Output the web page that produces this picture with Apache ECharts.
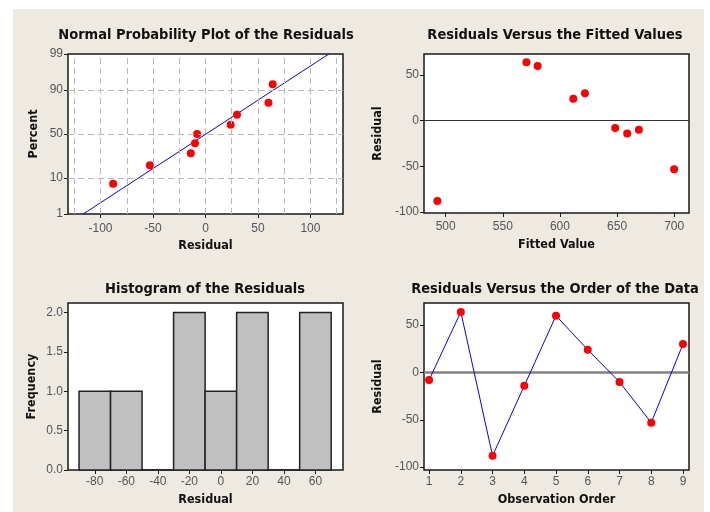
<!DOCTYPE html>
<html><head><meta charset="utf-8">
<script src="https://cdn.jsdelivr.net/npm/echarts@6/dist/echarts.min.js"></script>
<style>html,body{margin:0;padding:0;background:#fff}#c{width:710px;height:512px}</style>
</head><body><div id="c"></div>
<script>
// ---- data ----
const residuals = [-8, 64, -88, -14, 60, 24, -10, -53, 30];          // by observation order
const fittedValues = [648.4, 570.7, 492.7, 658.9, 580.5, 611.7, 669.1, 700, 621.9];
const observationOrder = [1, 2, 3, 4, 5, 6, 7, 8, 9];
const sortedResiduals = [-88, -53, -14, -10, -8, 24, 30, 60, 64];
const probPercent = [7.4, 18.1, 28.7, 39.4, 50, 60.6, 71.3, 81.9, 92.6];
const fitLineResidual = [-116.5, 117.5];
const fitLinePercent = [1, 99];
const percentTicks = [1, 10, 50, 90, 99];
const percentGrid = [10, 50, 90];
const residualTicks = [-100, -50, 0, 50, 100];
const residualGrid = [-125, -100, -75, -50, -25, 0, 25, 50, 75, 100, 125];
const fittedTicks = [500, 550, 600, 650, 700];
const residTicks2 = [-100, -50, 0, 50];
const binCenters = [-80, -60, -40, -20, 0, 20, 40, 60];
const binWidth = 20;
const frequencies = [1, 1, 0, 2, 1, 2, 0, 2];
const freqTicks = [0, 0.5, 1.0, 1.5, 2.0];

// inverse normal CDF (Acklam) to build the probability scale
function invNorm(p){
  const a=[-39.69683028665376,220.9460984245205,-275.9285104469687,138.3577518672690,-30.66479806614716,2.506628277459239];
  const b=[-54.47609879822406,161.5858368580409,-155.6989798598866,66.80131188771972,-13.28068155211027];
  const c=[-0.007784894002430293,-0.3223964580411365,-2.400758277161838,-2.549732539343734,4.374664141464968,2.938163982698783];
  const d=[0.007784695709041462,0.3224671290700398,2.445134137142996,3.754408661907416];
  const pl=0.02425, ph=1-pl; let q,r;
  if(p<pl){q=Math.sqrt(-2*Math.log(p));return (((((c[0]*q+c[1])*q+c[2])*q+c[3])*q+c[4])*q+c[5])/((((d[0]*q+d[1])*q+d[2])*q+d[3])*q+1);}
  if(p<=ph){q=p-0.5;r=q*q;return (((((a[0]*r+a[1])*r+a[2])*r+a[3])*r+a[4])*r+a[5])*q/(((((b[0]*r+b[1])*r+b[2])*r+b[3])*r+b[4])*r+1);}
  q=Math.sqrt(-2*Math.log(1-p));return -(((((c[0]*q+c[1])*q+c[2])*q+c[3])*q+c[4])*q+c[5])/((((d[0]*q+d[1])*q+d[2])*q+d[3])*q+1);
}
const zOf = pct => invNorm(pct/100);

const TICK_FONT = "'DejaVu Sans Condensed','DejaVu Sans',sans-serif";
const BOLD_FONT = "'DejaVu Sans Condensed','DejaVu Sans',sans-serif";
const INK = '#1a1a1a';

function axis(gi, o){
  const base = {
    gridIndex: gi, type:'value', scale:true,
    axisLine:{show:false, onZero:false},
    axisTick:{show:true, inside:false, length:4, lineStyle:{color:INK, width:1}},
    splitLine:{show:false},
    axisLabel:{color:'#111', fontFamily:TICK_FONT, fontSize:12.5, margin:6},
    nameTextStyle:{color:'#111', fontFamily:BOLD_FONT, fontWeight:'bold', fontSize:12.5},
    nameLocation:'middle'
  };
  const r = Object.assign(base, o);
  r.axisLine = {show:false, onZero:false};
  if(o.ticks){
    r.axisLabel = Object.assign({}, base.axisLabel, o.axisLabel||{}, {customValues:o.ticks});
    r.axisTick = Object.assign({}, base.axisTick, {customValues:o.ticks});
    delete r.ticks;
  }
  return r;
}

const z1 = zOf(1), z99 = zOf(99);
function pctLabel(v){
  for(const p of percentTicks){ if(Math.abs(zOf(p)-v)<1e-6) return String(p); }
  return '';
}

const gridLineStyle = {color:'#b8b8b8', type:[6,4], width:1};

const option = {
  animation:false,
  backgroundColor:'#fff',
  graphic:[{type:'rect', shape:{x:13,y:9,width:691,height:503}, style:{fill:'#EEEAE1'}, z:-10, silent:true}],
  title:[
    {text:'Normal Probability Plot of the Residuals', left:201, top:23, textAlign:'center'},
    {text:'Residuals Versus the Fitted Values', left:550, top:23, textAlign:'center'},
    {text:'Histogram of the Residuals', left:200, top:277, textAlign:'center'},
    {text:'Residuals Versus the Order of the Data', left:550, top:277, textAlign:'center'}
  ].map(t=>Object.assign(t,{textStyle:{fontFamily:BOLD_FONT, fontWeight:'bold', fontSize:14.5, color:'#111'}})),
  grid:[
    {left:68, top:54, width:275, height:160},
    {left:424, top:54, width:265, height:159},
    {left:68, top:303, width:275, height:167},
    {left:424, top:303, width:265, height:167}
  ].map(g=>Object.assign(g,{show:true, backgroundColor:'#fff', borderColor:INK, borderWidth:1.5, containLabel:false})),
  xAxis:[
    axis(0,{min:-131, max:131, ticks:residualTicks, name:'Residual', nameGap:25, axisLabel:{margin:9}}),
    axis(1,{min:481, max:713, ticks:fittedTicks, name:'Fitted Value', nameGap:25, axisLabel:{margin:8}}),
    axis(2,{min:-97, max:77.5, ticks:binCenters, name:'Residual', nameGap:23, axisLabel:{margin:6}}),
    axis(3,{min:0.84, max:9.19, ticks:observationOrder, name:'Observation Order', nameGap:23, axisLabel:{margin:6}})
  ],
  yAxis:[
    axis(0,{min:z1, max:z99, ticks:percentTicks.map(zOf), name:'Percent', nameGap:28, axisLabel:{formatter:pctLabel, margin:5}}),
    axis(1,{min:-101, max:73, ticks:residTicks2, name:'Residual', nameGap:40, axisLabel:{margin:5}}),
    axis(2,{min:0, max:2.12, ticks:freqTicks, name:'Frequency', nameGap:30, axisLabel:{margin:5, formatter:v=>v.toFixed(1)}}),
    axis(3,{min:-103, max:73.4, ticks:residTicks2, name:'Residual', nameGap:40, axisLabel:{margin:5}})
  ],
  series:[
    {type:'line', xAxisIndex:0, yAxisIndex:0, data:[], silent:true,
     markLine:{silent:true, symbol:'none', label:{show:false}, lineStyle:gridLineStyle, animation:false,
       data: residualGrid.map(v=>({xAxis:v})).concat(percentGrid.map(p=>({yAxis:zOf(p)})))}},
    {type:'line', xAxisIndex:0, yAxisIndex:0, data: fitLineResidual.map((x,i)=>[x, zOf(fitLinePercent[i])]),
     showSymbol:false, symbol:'none', lineStyle:{color:'#0000ff', width:1}, z:3},
    {type:'scatter', xAxisIndex:0, yAxisIndex:0, data: sortedResiduals.map((x,i)=>[x, zOf(probPercent[i])]),
     symbolSize:8, itemStyle:{color:'#ff0000', opacity:1}, z:4},
    {type:'scatter', xAxisIndex:1, yAxisIndex:1, data: fittedValues.map((f,i)=>[f, residuals[i]]),
     symbolSize:8, itemStyle:{color:'#ff0000', opacity:1}, z:4,
     markLine:{silent:true, symbol:'none', label:{show:false}, lineStyle:{color:'#333', type:'solid', width:1}, animation:false, data:[{yAxis:0}]}},
    {type:'custom', xAxisIndex:2, yAxisIndex:2, data: binCenters.map((c,i)=>[c, frequencies[i]]),
     renderItem:(params, api)=>{
       const c = api.value(0), f = api.value(1);
       const p1 = api.coord([c-binWidth/2, f]), p2 = api.coord([c+binWidth/2, 0]);
       return {type:'rect', shape:{x:p1[0], y:p1[1], width:p2[0]-p1[0], height:p2[1]-p1[1]},
               style:{fill:'#c0c0c0', stroke:'#222', lineWidth:1.5}};
     }},
    {type:'line', xAxisIndex:3, yAxisIndex:3, data: observationOrder.map((o,i)=>[o, residuals[i]]),
     symbol:'circle', symbolSize:8, itemStyle:{color:'#ff0000', opacity:1}, lineStyle:{color:'#0000ff', width:1}, z:4,
     markLine:{silent:true, symbol:'none', label:{show:false}, lineStyle:{color:'#808080', type:'solid', width:2.5}, animation:false, data:[{yAxis:0}], z:2}}
  ]
};
echarts.init(document.getElementById('c')).setOption(option);
</script></body></html>
